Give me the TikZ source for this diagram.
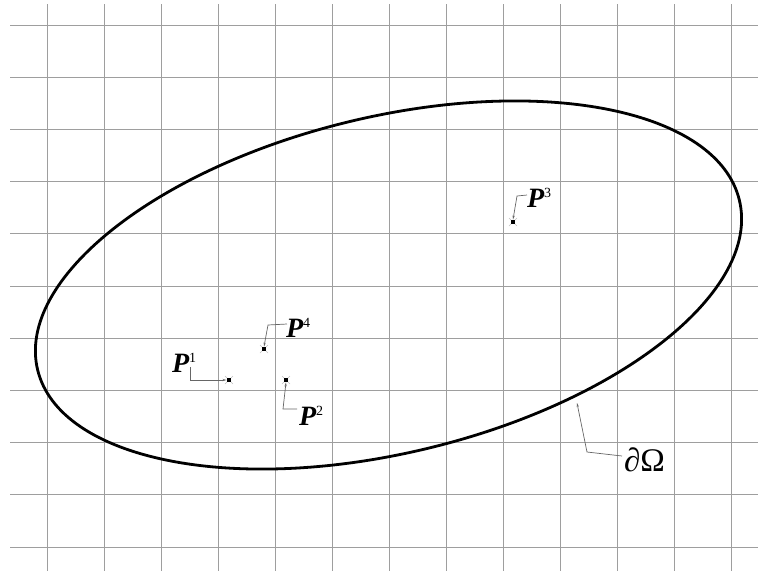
\documentclass[tikz,border=0pt]{standalone}
\usepackage{fontspec}
\setmainfont{Liberation Serif}
\usetikzlibrary{arrows.meta}
\newcommand{\plabel}[1]{{\fontsize{28}{30}\selectfont\bfseries\itshape P}\raisebox{10pt}{\fontsize{14}{14}\selectfont #1}}
\begin{document}
\begin{tikzpicture}[x=1pt,y=-1pt,
  gridline/.style={draw=black!38,line width=0.8pt},
  boundary/.style={draw=black,line width=2.8pt},
  ptdot/.style={fill=black,inner sep=0pt,minimum size=4.5pt,rectangle},
  ptcross/.style={draw=black!25,line width=0.5pt},
  leader/.style={draw=black!60,line width=0.7pt,-{Stealth[length=4pt,width=2.2pt]}},
  lab/.style={anchor=base west,inner sep=0pt,outer sep=0pt}]
\useasboundingbox (0,0) rectangle (758,571);
% grid
\foreach \i in {0,...,12} {
  \draw[gridline] ({47+57*\i},4) -- ({47+57*\i},571);
}
\foreach \j in {0,...,10} {
  \draw[gridline] (10,{25+52.2*\j}) -- (758,{25+52.2*\j});
}
% boundary
\coordinate (c) at (388.5,285);
\draw[boundary,rotate around={13.6:(c)}] (c) ellipse [x radius=361pt, y radius=168pt];
% points
\foreach \n/\x/\y in {p1/229/380, p2/286/380, p3/513/222, p4/264/349} {
  \draw[ptcross] (\x-4,\y-4) -- (\x+4,\y+4) (\x-4,\y+4) -- (\x+4,\y-4);
  \node[ptdot] (\n) at (\x,\y) {};
}
% labels
\node[lab] (l1) at (172,372) {\plabel{1}};
\node[lab] (l2) at (299,425) {\plabel{2}};
\node[lab] (l3) at (527,207) {\plabel{3}};
\node[lab] (l4) at (286,337) {\plabel{4}};
\node[lab] (lo) at (624,471) {{\fontsize{33}{35}\selectfont ∂Ω}};
% leaders
\coordinate (k1) at (190,367);
\draw[leader] (k1) |- (p1.west);
\coordinate (k2) at (297,409);
\coordinate (k2b) at (283,409);
\draw[leader] (k2) -- (k2b) -- (p2.south);
\coordinate (k3) at (527,195);
\coordinate (k3b) at (517,196);
\draw[leader] (k3) -- (k3b) -- (p3.north);
\coordinate (k4) at (287,324);
\coordinate (k4b) at (268,325);
\draw[leader] (k4) -- (k4b) -- (p4.north);
\coordinate (ko) at (622,456);
\coordinate (kob) at (587,452);
\coordinate (otip) at (577,403);
\draw[leader] (ko) -- (kob) -- (otip);
\end{tikzpicture}
\end{document}
